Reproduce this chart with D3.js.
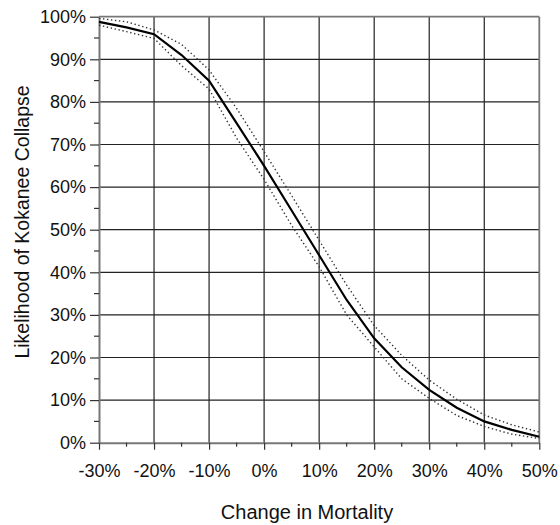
<!DOCTYPE html>
<html>
<head>
<meta charset="utf-8">
<script src="https://cdn.jsdelivr.net/npm/d3@7/dist/d3.min.js"></script>
<style>
html,body{margin:0;padding:0;background:#fff;}
svg{display:block;font-family:"Liberation Sans",Arial,Helvetica,sans-serif;}
</style>
</head>
<body>
<svg id="chart" width="560" height="525"></svg>
<script>
// Data
const mortality = [-30,-25,-20,-15,-10,-5,0,5,10,15,20,25,30,35,40,45,50];
const likelihood = [98.8,97.5,95.9,91,85,75,65,54.5,44,33.5,24.5,17.7,12.4,8.2,5.0,3.0,1.4];
const upperBound = [99.6,98.8,96.9,93.5,87.5,78.5,68.3,58,47.5,37,27.5,20.5,14.7,10.2,6.5,4.2,2.5];
const lowerBound = [98.0,96.5,94.9,88.5,83,71.5,61.8,51,41.3,30,22.5,15,10.4,6.4,3.8,2.0,1.0];
const xTicks = [-30,-20,-10,0,10,20,30,40,50];
const yTicks = [0,10,20,30,40,50,60,70,80,90,100];
const xMinor = [-25,-15,-5,5,15,25,35,45];
const yMinor = [5,15,25,35,45,55,65,75,85,95];

const svg = d3.select("#chart");
const L = 99, R = 539.3, T = 16.7, B = 442.7;
const x = d3.scaleLinear().domain([-30,50]).range([L,R]);
const y = d3.scaleLinear().domain([0,100]).range([B,T]);

// gridlines
const g = svg.append("g");
g.selectAll("line.vg").data(xTicks.slice(1,-1)).enter().append("line")
  .attr("x1",d=>x(d)).attr("x2",d=>x(d)).attr("y1",T).attr("y2",B)
  .attr("stroke","#222").attr("stroke-width",1.2);
g.selectAll("line.hg").data(yTicks.slice(1,-1)).enter().append("line")
  .attr("x1",L).attr("x2",R).attr("y1",d=>y(d)).attr("y2",d=>y(d))
  .attr("stroke","#222").attr("stroke-width",1.2);
// frame top/right
g.append("line").attr("x1",L).attr("x2",R).attr("y1",T).attr("y2",T).attr("stroke","#777").attr("stroke-width",1.8);
g.append("line").attr("x1",R).attr("x2",R).attr("y1",T).attr("y2",B).attr("stroke","#777").attr("stroke-width",1.8);

// axes
const xAxis = d3.axisBottom(x).tickValues(xTicks).tickFormat(d=>d+"%").tickSizeInner(7).tickSizeOuter(0).tickPadding(15);
const yAxis = d3.axisLeft(y).tickValues(yTicks).tickFormat(d=>d+"%").tickSizeInner(9).tickSizeOuter(0).tickPadding(4);
const gx = svg.append("g").attr("transform",`translate(0,${B})`).call(xAxis);
const gy = svg.append("g").attr("transform",`translate(${L},0)`).call(yAxis);
[gx,gy].forEach(a=>{
  a.select(".domain").attr("stroke","#777").attr("stroke-width",2);
  a.selectAll(".tick line").attr("stroke","#333").attr("stroke-width",1.2);
  a.selectAll(".tick text").attr("font-size",18).attr("fill","#111");
});
// minor ticks
svg.append("g").selectAll("line").data(xMinor).enter().append("line")
  .attr("x1",d=>x(d)).attr("x2",d=>x(d)).attr("y1",B).attr("y2",B+4)
  .attr("stroke","#333").attr("stroke-width",1.2);
svg.append("g").selectAll("line").data(yMinor).enter().append("line")
  .attr("x1",L-5).attr("x2",L).attr("y1",d=>y(d)).attr("y2",d=>y(d))
  .attr("stroke","#333").attr("stroke-width",1.2);

// lines
const line = d3.line().x((d,i)=>x(mortality[i])).y(d=>y(d));
svg.append("path").datum(upperBound).attr("d",line).attr("fill","none")
  .attr("stroke","#333").attr("stroke-width",1.4).attr("stroke-dasharray","1.4,2.6");
svg.append("path").datum(lowerBound).attr("d",line).attr("fill","none")
  .attr("stroke","#333").attr("stroke-width",1.4).attr("stroke-dasharray","1.4,2.6");
svg.append("path").datum(likelihood).attr("d",line).attr("fill","none")
  .attr("stroke","#000").attr("stroke-width",2.2);

// titles
svg.append("text").attr("x",307).attr("y",519).attr("text-anchor","middle")
  .attr("font-size",20).attr("fill","#111").text("Change in Mortality");
svg.append("text").attr("transform","translate(29,222) rotate(-90)").attr("text-anchor","middle")
  .attr("font-size",19.5).attr("fill","#111").text("Likelihood of Kokanee Collapse");
</script>
</body>
</html>
